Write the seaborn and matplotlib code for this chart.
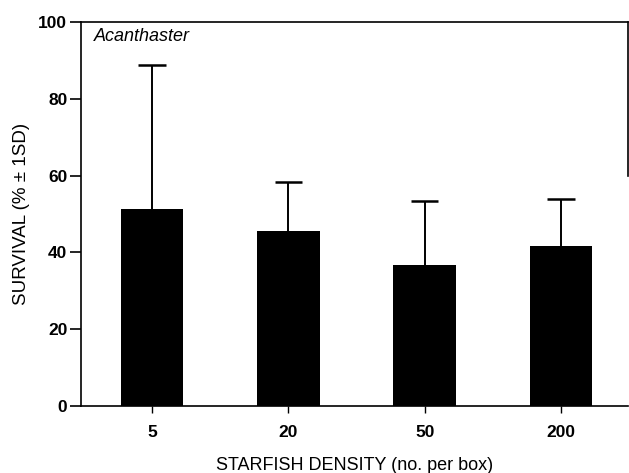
import matplotlib
matplotlib.use("Agg")
import matplotlib.pyplot as plt
import seaborn as sns
import pandas as pd
import numpy as np

categories = ["5", "20", "50", "200"]
survival = [51.2, 45.7, 36.6, 41.6]
sd_upper = [37.7, 12.6, 16.9, 12.2]
y_ticks = [0, 20, 40, 60, 80, 100]

sns.set_style("white")
plt.rcParams['font.family'] = ['Liberation Sans', 'DejaVu Sans']
plt.rcParams['text.color'] = 'black'
plt.rcParams['axes.labelcolor'] = 'black'
plt.rcParams['xtick.color'] = 'black'
plt.rcParams['ytick.color'] = 'black'

df = pd.DataFrame({"density": categories, "survival": survival})

fig = plt.figure(figsize=(6.29, 4.73), dpi=100)
ax = fig.add_axes([0.129, 0.1416, 0.869, 0.8119])

sns.barplot(data=df, x="density", y="survival", order=categories,
            color="black", saturation=1, width=0.46, errorbar=None, ax=ax,
            edgecolor="black", linewidth=0, zorder=3)

xpos = np.arange(len(categories))
tops = np.array(survival) + np.array(sd_upper)
ax.vlines(xpos, survival, tops, colors="black", linewidth=1.4, zorder=2)
cap_half = 0.1
ax.hlines(tops, xpos - cap_half, xpos + cap_half, colors="black", linewidth=1.8, zorder=2)

ax.set_xlim(-0.52, 3.49)
ax.set_ylim(0, 100)
ax.set_yticks(y_ticks)
ax.set_yticklabels([str(t) for t in y_ticks], fontsize=12.5, fontweight="bold")
ax.set_xticks(xpos)
ax.set_xticklabels(categories, fontsize=12.5, fontweight="bold")

for s in ["left", "bottom", "top", "right"]:
    ax.spines[s].set_visible(True)
    ax.spines[s].set_color("black")
    ax.spines[s].set_linewidth(1.2)
ax.spines["right"].set_bounds(60, 100)

ax.tick_params(axis="y", direction="out", length=8, width=1.2, pad=2, left=True)
ax.tick_params(axis="x", direction="out", length=5, width=1.0, pad=9, bottom=True)

ax.set_xlabel("STARFISH DENSITY (no. per box)", fontsize=13, labelpad=12)
ax.set_ylabel("SURVIVAL (% ± 1SD)", fontsize=13.5, labelpad=6)

ax.text(0.023, 0.985, "Acanthaster", transform=ax.transAxes, fontsize=13,
        fontstyle="italic", ha="left", va="top")

fig.savefig("out.png", dpi=100)
